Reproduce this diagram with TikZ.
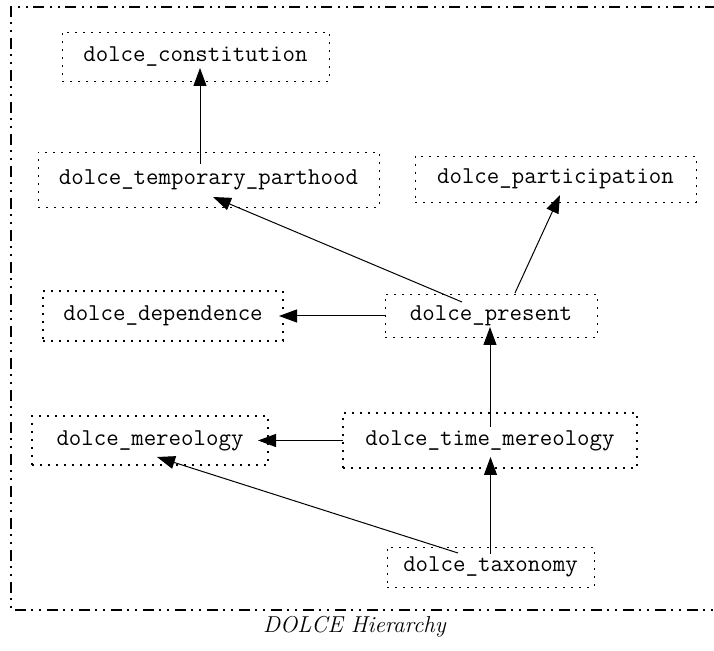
\documentclass[tikz,border=0pt]{standalone}
\usepackage{fontspec}
\usetikzlibrary{arrows.meta}

\begin{document}
\begin{tikzpicture}[x=0.5pt,y=-0.5pt,
        module/.style={draw,line width=0.4pt,dash pattern=on 1pt off 3pt,inner sep=0pt,
            font=\fontsize{12.1}{14}\selectfont\ttfamily},
        boldmodule/.style={module,line width=0.75pt,dash pattern=on 0.9pt off 3.1pt},
        uses/.style={-{Triangle[length=9pt,width=6.5pt]},line width=0.5pt},
        frame/.style={line width=1pt,dash pattern=on 5.5pt off 2.5pt on 1pt off 3pt on 1pt off 3pt}]
                \useasboundingbox (0,0) rectangle (714,651);
                \draw[frame] (716,7) -- (11,7) -- (11,610) -- (716,610);

                \node[module,minimum width=133.5pt,minimum height=24.5pt] (cons) at (195.5,56.5) {dolce\_constitution};
                \node[module,minimum width=170.5pt,minimum height=27.5pt] (tp) at (208.5,179.5) {dolce\_temporary\_parthood};
                \node[module,minimum width=140.5pt,minimum height=23pt] (part) at (555.5,179) {dolce\_participation};
                \node[boldmodule,minimum width=120pt,minimum height=25pt] (dep) at (163,316) {dolce\_dependence};
                \node[module,minimum width=106pt,minimum height=21.5pt] (pres) at (491,315.5) {dolce\_present};
                \node[boldmodule,minimum width=118pt,minimum height=24.5pt] (mer) at (150,440.5) {dolce\_mereology};
                \node[boldmodule,minimum width=147pt,minimum height=27.5pt] (tm) at (490,440.5) {dolce\_time\_mereology};
                \node[module,minimum width=103.5pt,minimum height=20pt] (tax) at (490.5,567) {dolce\_taxonomy};

                \node[anchor=base,font=\fontsize{11.5}{13}\selectfont\itshape] (caption) at (354.5,633) {DOLCE Hierarchy};

                \draw[uses] ([shift={(-8.5,-15.5)}]tp.center) to ([shift={(4.5,11.5)}]cons.center);
                \draw[uses] ([shift={(-29,-13.5)}]pres.center) to ([shift={(4.5,17.5)}]tp.center);
                \draw[uses] ([shift={(24,-22.5)}]pres.center) to ([shift={(4.5,16)}]part.center);
                \draw[uses] ([shift={(-106,0.5)}]pres.center) to ([shift={(116,0)}]dep.center);
                \draw[uses] ([shift={(0,-13.5)}]tm.center) to ([shift={(-1,11.5)}]pres.center);
                \draw[uses] ([shift={(-147,0)}]tm.center) to ([shift={(108,0)}]mer.center);
                \draw[uses] ([shift={(-32.5,-14)}]tax.center) to ([shift={(7,16.5)}]mer.center);
                \draw[uses] ([shift={(0,-13)}]tax.center) to ([shift={(0.5,16.5)}]tm.center);
            \end{tikzpicture}
\end{document}
